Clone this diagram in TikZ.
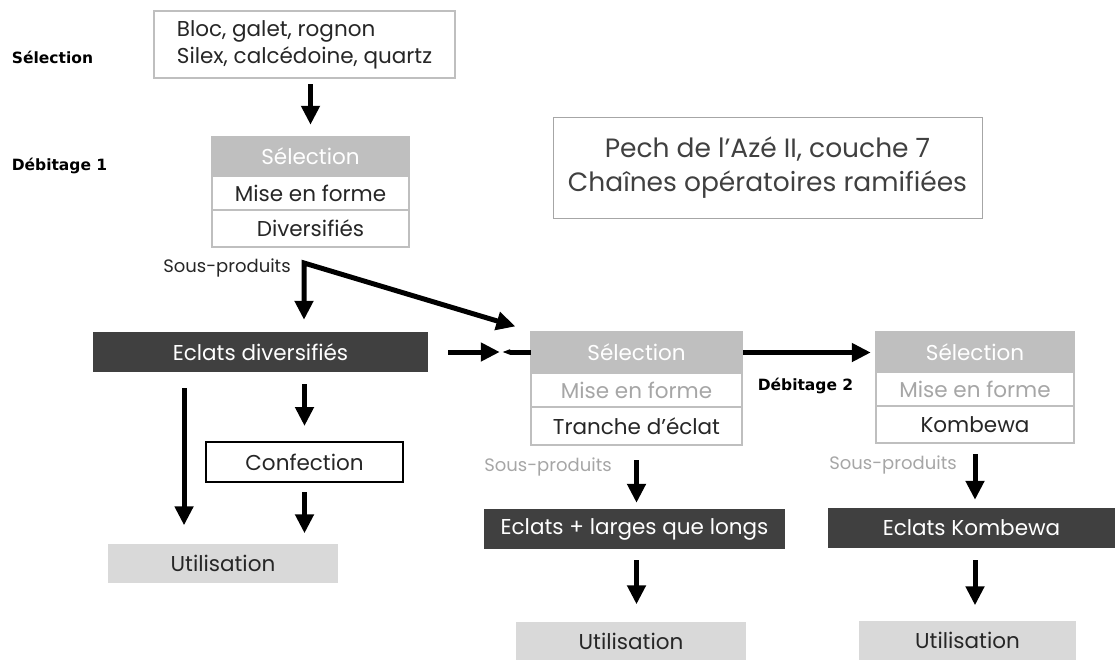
\documentclass[tikz,border=0pt]{standalone}
\usepackage{fontspec}
\setmainfont{Poppins}
\newfontfamily\lblfont{DejaVu Sans}
\usetikzlibrary{arrows.meta,calc}

\definecolor{selgray}{HTML}{BFBFBF}
\definecolor{darkbox}{HTML}{404040}
\definecolor{utilgray}{HTML}{D9D9D9}
\definecolor{midgray}{HTML}{A6A6A6}
\definecolor{txtgray}{HTML}{262626}

\begin{document}
\begin{tikzpicture}[x=1pt, y=-1pt,
		every node/.style={inner sep=0pt, text=txtgray, font=\fontsize{21.5}{27}\selectfont},
		rowsel/.style={draw=selgray, fill=selgray, text=white, line width=2.5pt},
		rowbox/.style={draw=selgray, fill=white, line width=2.5pt},
		dark/.style={fill=darkbox, text=white, minimum height=40pt},
		util/.style={fill=utilgray, minimum height=39pt},
		lbl/.style={font=\lblfont\bfseries\fontsize{15.5}{18}\selectfont, text=black},
		sousprod/.style={font=\fontsize{18}{21}\selectfont},
		arr/.style={line width=5pt, -{Triangle[length=19pt, width=18pt]}}
	]
	\useasboundingbox (0,0) rectangle (1115,659);
	
	% Matière première
	\node[draw=selgray, line width=2.5pt, fill=white, align=left, minimum width=301pt, minimum height=67pt] (src) at (304.5,44.5) {Bloc, galet, rognon\\Silex, calcédoine, quartz};
	\node[lbl] (lsel) at (52.5,57) {Sélection};
	\node[lbl] (ldeb1) at (59.5,166) {Débitage 1};
	
	% Débitage 1
	\node[rowsel, minimum width=197pt, minimum height=39pt] (d1sel) at (310.5,156.5) {Sélection};
	\node[rowbox, minimum width=197pt, minimum height=34pt] (d1mef) at (310.5,193) {Mise en forme};
	\node[rowbox, minimum width=197pt, minimum height=37pt] (d1div) at (310.5,228.5) {Diversifiés};
	
	% Titre
	\node[draw=midgray, line width=1pt, align=center, text=darkbox, font=\fontsize{26.5}{34}\selectfont, minimum width=429pt, minimum height=101pt] (titre) at (767.5,167.5) {Pech de l'Azé II, couche 7\\Chaînes opératoires ramifiées};
	
	\node[sousprod] (sp1) at (227,268) {Sous-produits};
	\coordinate (coin) at (304,263);
	
	% Eclats diversifiés
	\node[dark, minimum width=335pt] (eclD) at (260.5,352) {Eclats diversifiés};
	\coordinate (eclDg) at ($(eclD.south west)!0.272!(eclD.south east)$);
	\node[draw=black, line width=2pt, fill=white, minimum width=197pt, minimum height=40pt] (conf) at (304.5,462) {Confection};
	\node[util, minimum width=230pt] (util1) at (223,563) {Utilisation};
	
	% Débitage 2 : tranche d'éclat
	\node[rowsel, minimum width=211pt, minimum height=41pt] (b2sel) at (636.5,352.5) {Sélection};
	\node[rowbox, text=midgray, minimum width=211pt, minimum height=34pt] (b2mef) at (636.5,390) {Mise en forme};
	\node[rowbox, minimum width=211pt, minimum height=38pt] (b2tr) at (636.5,426) {Tranche d’éclat};
	\node[lbl] (ldeb2) at (805.5,386) {Débitage 2};
	\node[sousprod, text=midgray] (sp2) at (548,467) {Sous-produits};
	\node[dark, minimum width=301pt] (eclL) at (634.5,529) {Eclats + larges que longs};
	\node[util, minimum width=230pt] (util2) at (631,641) {Utilisation};
	
	% Débitage 2 : Kombewa
	\node[rowsel, minimum width=198pt, minimum height=40pt] (b3sel) at (975,352) {Sélection};
	\node[rowbox, text=midgray, minimum width=198pt, minimum height=34pt] (b3mef) at (975,389) {Mise en forme};
	\node[rowbox, minimum width=198pt, minimum height=37pt] (b3kom) at (975,424.5) {Kombewa};
	\node[sousprod, text=midgray] (sp3) at (893,465) {Sous-produits};
	\node[dark, minimum width=287pt] (eclK) at (971.5,528) {Eclats Kombewa};
	\node[util, minimum width=217pt] (util3) at (967.5,640) {Utilisation};
	
	% Flèches
	\draw[arr, shorten <=5pt, shorten >=11pt] (src.south -| d1sel.north) -- (d1sel.north);
	\draw[line width=5pt, line join=miter, {Triangle[length=19pt, width=18pt]}-{Triangle[length=19pt, width=18pt]}, shorten <=12pt, shorten >=15pt] (coin |- eclD.north) -- (coin) -- (b2sel.north west);
	\draw[arr, shorten <=20pt, shorten >=30pt] (eclD.east) -- (eclD.east -| b2sel.west);
	\draw[line width=5pt, {Triangle[length=8pt, width=5pt]}-, shorten <=74pt, shorten >=-1pt] (eclD.east) -- (eclD.east -| b2sel.west);
	\draw[arr, shorten >=4pt] (b2sel.east) -- (b2sel.east -| b3sel.west);
	\draw[arr, shorten <=16pt, shorten >=18pt] (eclDg) -- (eclDg |- util1.north);
	\draw[arr, shorten <=12pt, shorten >=15pt] (eclD.south -| conf.north) -- (conf.north);
	\draw[arr, shorten <=9pt, shorten >=10pt] (conf.south) -- (conf.south |- util1.north);
	\draw[arr, shorten <=14pt, shorten >=6pt] (b2tr.south) -- (b2tr.south |- eclL.north);
	\draw[arr, shorten <=11pt, shorten >=17pt] (eclL.south -| b2tr.south) -- (b2tr.south |- util2.north);
	\draw[arr, shorten <=10pt, shorten >=8pt] (b3kom.south) -- (b3kom.south |- eclK.north);
	\draw[arr, shorten <=12pt, shorten >=15pt] (eclK.south -| b3kom.south) -- (b3kom.south |- util3.north);
\end{tikzpicture}
\end{document}
